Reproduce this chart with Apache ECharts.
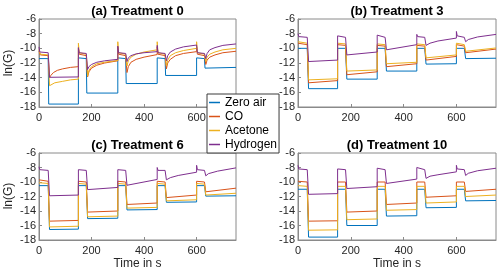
<!DOCTYPE html>
<html><head><meta charset="utf-8">
<script src="https://cdn.jsdelivr.net/npm/echarts@6/dist/echarts.min.js"></script>
<style>html,body{margin:0;padding:0;background:#fff}#c{width:500px;height:274px}</style>
</head><body><div id="c"></div>
<script>
// ---- data ----
const seriesNames = ['Zero air', 'CO', 'Acetone', 'Hydrogen'];
const panelTitles = ['(a) Treatment 0', '(b) Treatment 3', '(c) Treatment 6', '(d) Treatment 10'];
const xTicks = [0, 200, 400, 600];
const yTicks = [-18, -16, -14, -12, -10, -8, -6];

// Panel (a) Treatment 0  — [time s, ln(G)]
const a_zero = [[0,-11.4],[35,-11.4],[37,-17.6],[150,-17.6],[150,-11.3],[180,-11.4],[182,-16.1],[300,-16.1],[300,-11.3],[330,-11.4],[332,-14.8],[450,-14.8],[450,-11.3],[480,-11.4],[482,-13.7],[600,-13.7],[600,-11.3],[630,-11.4],[632,-12.7],[750,-12.6]];
const a_co = [[0,-10.4],[5,-10.9],[35,-11.0],[40,-14.0],[45,-13.7],[55,-13.3],[70,-13.0],[90,-12.8],[120,-12.6],[150,-12.5],[150,-10.0],[153,-10.8],[180,-11.0],[185,-13.9],[190,-13.2],[200,-12.7],[220,-12.3],[250,-12.0],[300,-11.7],[300,-9.8],[303,-10.8],[330,-11.0],[335,-13.3],[340,-12.5],[350,-11.9],[370,-11.5],[400,-11.2],[450,-10.85],[450,-9.8],[453,-10.8],[480,-11.0],[485,-12.8],[490,-12.0],[500,-11.5],[520,-11.0],[550,-10.7],[600,-10.45],[600,-9.8],[603,-10.8],[630,-11.0],[635,-12.2],[640,-11.6],[650,-11.2],[670,-10.9],[700,-10.6],[750,-10.4]];
const a_acetone = [[0,-10.2],[5,-10.8],[35,-10.9],[40,-15.1],[45,-14.9],[60,-14.7],[90,-14.5],[120,-14.3],[150,-14.2],[150,-9.3],[153,-10.6],[180,-10.8],[185,-13.8],[190,-13.0],[200,-12.5],[220,-12.1],[250,-11.9],[300,-11.65],[300,-9.1],[303,-10.6],[330,-10.8],[335,-12.4],[340,-11.7],[350,-11.2],[370,-10.8],[400,-10.5],[450,-10.2],[450,-9.1],[453,-10.6],[480,-10.8],[485,-12.4],[490,-11.6],[500,-11.0],[520,-10.6],[550,-10.3],[600,-10.0],[600,-9.1],[603,-10.6],[630,-10.8],[635,-11.8],[640,-11.2],[650,-10.8],[670,-10.5],[700,-10.2],[750,-10.0]];
const a_h2 = [[0,-9.8],[3,-10.5],[35,-10.6],[40,-13.95],[150,-13.9],[150,-9.9],[153,-10.6],[180,-10.7],[185,-12.9],[190,-12.5],[200,-12.2],[220,-11.9],[250,-11.7],[300,-11.5],[300,-9.7],[303,-10.6],[330,-10.7],[335,-11.8],[340,-11.3],[350,-11.0],[370,-10.75],[400,-10.6],[450,-10.45],[450,-9.6],[453,-10.6],[480,-10.7],[485,-11.7],[490,-11.0],[500,-10.5],[520,-10.1],[550,-9.8],[600,-9.55],[600,-9.4],[603,-10.6],[630,-10.7],[635,-11.4],[640,-10.7],[650,-10.2],[670,-9.9],[700,-9.6],[750,-9.4]];

// Panel (b) Treatment 3
const b_zero = [[0,-10.0],[35,-10.0],[40,-15.5],[150,-15.5],[150,-10.0],[180,-10.0],[185,-14.2],[300,-14.2],[300,-10.0],[330,-10.0],[335,-13.1],[450,-13.1],[450,-10.0],[480,-10.0],[485,-12.15],[600,-12.1],[600,-10.0],[630,-10.0],[635,-11.4],[750,-11.35]];
const b_co = [[0,-9.3],[35,-9.5],[40,-14.7],[150,-14.4],[150,-9.5],[180,-9.6],[185,-13.6],[300,-13.2],[300,-9.6],[330,-9.7],[335,-12.5],[450,-12.1],[450,-9.6],[480,-9.7],[485,-11.6],[600,-11.1],[600,-9.5],[630,-9.7],[635,-10.6],[750,-10.1]];
const b_acetone = [[0,-9.1],[35,-9.3],[40,-14.3],[150,-14.15],[150,-9.3],[180,-9.4],[185,-13.1],[300,-12.95],[300,-9.4],[330,-9.5],[335,-12.1],[450,-11.9],[450,-9.4],[480,-9.5],[485,-11.3],[600,-10.9],[600,-9.3],[630,-9.5],[635,-10.4],[750,-9.95]];
const b_h2 = [[0,-8.0],[3,-8.4],[35,-8.5],[40,-11.8],[150,-11.6],[150,-8.3],[180,-8.5],[185,-10.9],[300,-10.5],[300,-8.2],[330,-8.5],[335,-10.2],[450,-9.5],[450,-8.1],[453,-8.4],[480,-8.5],[485,-9.6],[500,-9.3],[530,-9.0],[600,-8.6],[600,-7.7],[603,-8.3],[630,-8.5],[635,-9.1],[645,-8.8],[680,-8.45],[750,-8.1]];

// Panel (c) Treatment 6
const c_zero = [[0,-10.5],[35,-10.5],[40,-16.55],[150,-16.5],[150,-10.5],[180,-10.5],[185,-15.05],[300,-15.0],[300,-10.5],[330,-10.5],[335,-13.85],[450,-13.8],[450,-10.5],[480,-10.5],[485,-12.8],[600,-12.75],[600,-10.5],[630,-10.5],[635,-11.95],[750,-11.9]];
const c_co = [[0,-9.7],[35,-9.9],[40,-15.4],[150,-15.3],[150,-9.9],[180,-10.0],[185,-14.15],[300,-14.0],[300,-9.9],[330,-10.0],[335,-13.1],[450,-12.9],[450,-9.9],[480,-10.0],[485,-12.15],[600,-11.8],[600,-9.9],[630,-10.0],[635,-11.35],[750,-10.85]];
const c_acetone = [[0,-10.1],[35,-10.2],[40,-16.2],[150,-16.1],[150,-10.2],[180,-10.3],[185,-14.8],[300,-14.7],[300,-10.2],[330,-10.3],[335,-13.6],[450,-13.5],[450,-10.2],[480,-10.3],[485,-12.6],[600,-12.45],[600,-10.2],[630,-10.3],[635,-11.8],[750,-11.55]];
const c_h2 = [[0,-7.9],[3,-8.3],[35,-8.4],[40,-11.9],[150,-11.8],[150,-8.3],[180,-8.4],[185,-11.05],[300,-10.75],[300,-8.3],[330,-8.4],[335,-10.45],[450,-9.65],[450,-8.0],[453,-8.4],[480,-8.4],[485,-9.7],[500,-9.4],[530,-9.1],[600,-8.65],[600,-7.7],[603,-8.3],[630,-8.4],[635,-9.15],[645,-8.85],[680,-8.5],[750,-8.05]];

// Panel (d) Treatment 10
const d_zero = [[0,-11.0],[35,-11.0],[40,-17.6],[150,-17.6],[150,-11.0],[180,-11.0],[185,-16.0],[300,-16.0],[300,-11.0],[330,-11.0],[335,-14.7],[450,-14.65],[450,-11.0],[480,-11.0],[485,-13.55],[600,-13.5],[600,-11.0],[630,-11.0],[635,-12.6],[750,-12.55]];
const d_co = [[0,-9.9],[35,-10.0],[40,-15.4],[150,-15.35],[150,-10.0],[180,-10.0],[185,-14.15],[300,-14.0],[300,-10.0],[330,-10.0],[335,-13.1],[450,-12.9],[450,-10.0],[480,-10.0],[485,-12.1],[600,-11.9],[600,-10.0],[630,-10.0],[635,-11.3],[750,-11.0]];
const d_acetone = [[0,-10.5],[35,-10.6],[40,-16.65],[150,-16.6],[150,-10.6],[180,-10.6],[185,-15.2],[300,-15.1],[300,-10.6],[330,-10.6],[335,-13.9],[450,-13.8],[450,-10.6],[480,-10.6],[485,-12.9],[600,-12.75],[600,-10.6],[630,-10.6],[635,-12.0],[750,-11.8]];
const d_h2 = [[0,-7.7],[3,-8.2],[35,-8.3],[40,-11.7],[150,-11.6],[150,-8.2],[180,-8.3],[185,-10.9],[300,-10.65],[300,-8.1],[330,-8.3],[335,-10.2],[450,-9.6],[450,-8.0],[453,-8.2],[480,-8.3],[485,-9.5],[500,-9.2],[530,-9.0],[600,-8.6],[600,-7.7],[603,-8.2],[630,-8.3],[635,-9.1],[645,-8.8],[680,-8.45],[750,-8.1]];

// ---- chart ----
const panels = [
  [a_zero, a_co, a_acetone, a_h2],
  [b_zero, b_co, b_acetone, b_h2],
  [c_zero, c_co, c_acetone, c_h2],
  [d_zero, d_co, d_acetone, d_h2]
];
const colors = ['#0072BD', '#D95319', '#EDB120', '#7E2F8E'];
const FONT = 'Liberation Sans, Arial, Helvetica, sans-serif';
const grids = [
  {left: 39, top: 19, width: 197, height: 88},
  {left: 298, top: 19, width: 198, height: 88},
  {left: 39, top: 153, width: 197, height: 87},
  {left: 298, top: 153, width: 198, height: 87}
];
const lineCol = '#8a8a8a';
const textCol = '#262626';

const option = {
  animation: false,
  backgroundColor: '#fff',
  color: colors,
  textStyle: {fontFamily: FONT},
  grid: grids.map(g => Object.assign({show: true, borderColor: lineCol, borderWidth: 1, containLabel: false}, g)),
  xAxis: grids.map((g, i) => ({
    type: 'value', gridIndex: i, min: 0, max: 750, interval: 200,
    axisLine: {show: true, lineStyle: {color: lineCol, width: 1}},
    axisTick: {show: true, inside: true, length: 3, lineStyle: {color: lineCol}},
    splitLine: {show: false},
    axisLabel: {
      color: textCol, fontSize: 11, fontFamily: FONT, margin: 5, showMaxLabel: false,
      formatter: v => (xTicks.indexOf(v) >= 0 ? String(v) : '')
    }
  })),
  yAxis: grids.map((g, i) => ({
    type: 'value', gridIndex: i, min: yTicks[0], max: yTicks[yTicks.length - 1], interval: 2,
    axisLine: {show: true, lineStyle: {color: lineCol, width: 1}},
    axisTick: {show: true, inside: true, length: 3, lineStyle: {color: lineCol}},
    splitLine: {show: false},
    axisLabel: {color: textCol, fontSize: 11, fontFamily: FONT, margin: 3,
      formatter: v => (yTicks.indexOf(v) >= 0 ? String(v) : '')}
  })),
  legend: {
    orient: 'vertical', left: 207, top: 94,
    data: seriesNames,
    icon: 'rect', itemWidth: 11, itemHeight: 1.5, itemGap: 1,
    padding: [2, 2, 2, 2],
    backgroundColor: '#fff', borderColor: '#3a3a3a', borderWidth: 1,
    textStyle: {fontSize: 12, color: '#000', fontFamily: FONT, lineHeight: 13},
    z: 10
  },
  graphic: [],
  series: []
};

panels.forEach((p, i) => {
  p.forEach((data, k) => {
    option.series.push({
      type: 'line', name: seriesNames[k], xAxisIndex: i, yAxisIndex: i,
      data: data, showSymbol: false, symbol: 'none',
      lineStyle: {width: 1, color: colors[k]}, itemStyle: {color: colors[k]},
      z: 2 + k
    });
  });
  const g = grids[i];
  option.graphic.push({
    type: 'text', x: g.left + g.width / 2, y: g.top - 7.5,
    style: {text: panelTitles[i], fill: '#000', font: 'bold 13px ' + FONT, textAlign: 'center', textVerticalAlign: 'middle'}
  });
});
option.graphic.push(
  {type: 'text', x: 9, y: 63, rotation: Math.PI / 2,
   style: {text: 'ln(G)', fill: textCol, font: '12px ' + FONT, textAlign: 'center', textVerticalAlign: 'middle'}},
  {type: 'text', x: 9, y: 196, rotation: Math.PI / 2,
   style: {text: 'ln(G)', fill: textCol, font: '12px ' + FONT, textAlign: 'center', textVerticalAlign: 'middle'}},
  {type: 'text', x: 137.5, y: 263.5,
   style: {text: 'Time in s', fill: textCol, font: '12px ' + FONT, textAlign: 'center', textVerticalAlign: 'middle'}},
  {type: 'text', x: 397, y: 263.5,
   style: {text: 'Time in s', fill: textCol, font: '12px ' + FONT, textAlign: 'center', textVerticalAlign: 'middle'}}
);

const chart = echarts.init(document.getElementById('c'), null, {renderer: 'canvas'});
chart.setOption(option);
</script>
</body></html>
